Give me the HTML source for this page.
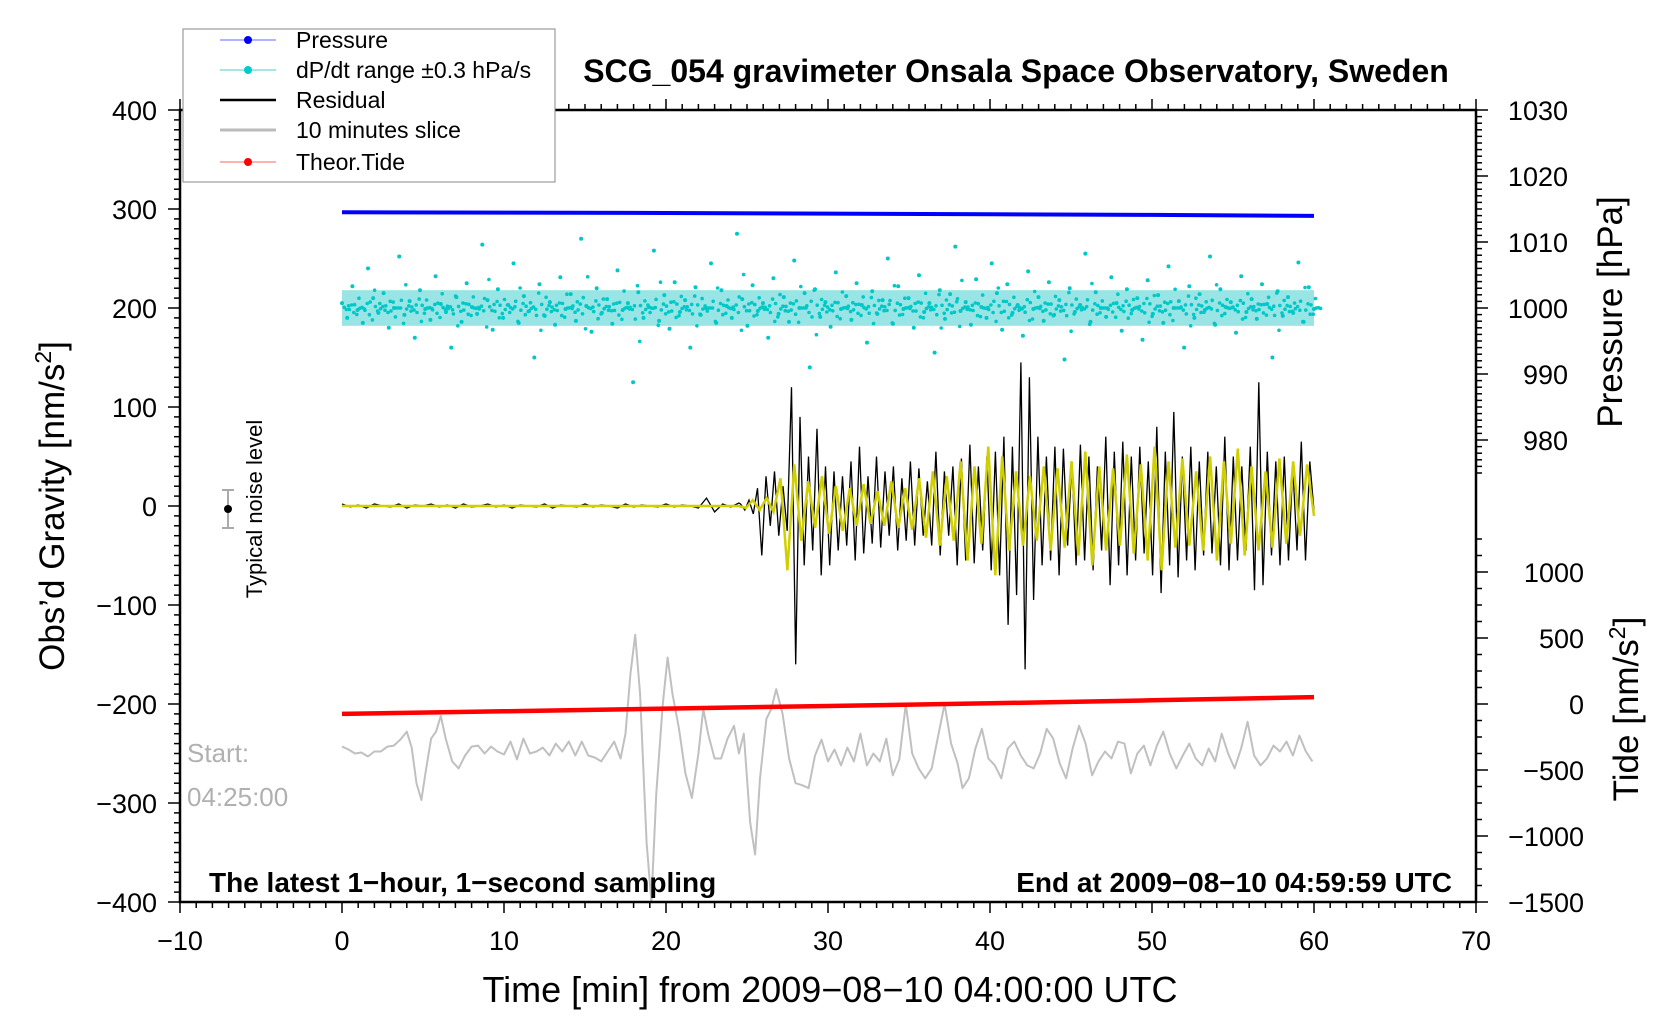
<!DOCTYPE html>
<html><head><meta charset="utf-8">
<style>
html,body{margin:0;padding:0;background:#fff;}
svg{display:block;font-family:"Liberation Sans",Arial,sans-serif;}
</style></head>
<body>
<svg id="chart" width="1676" height="1020" viewBox="0 0 1676 1020" xmlns="http://www.w3.org/2000/svg">
<rect x="0" y="0" width="1676" height="1020" fill="#fff"/>
<g id="marks"></g>
<g id="axes"></g>
<text x="1016" y="82" text-anchor="middle" font-size="32" font-weight="bold">SCG_054 gravimeter Onsala Space Observatory, Sweden</text>
<text x="830" y="1002" text-anchor="middle" font-size="36">Time [min] from 2009−08−10 04:00:00 UTC</text>
<text transform="translate(64,506) rotate(-90)" text-anchor="middle" font-size="35">Obs’d Gravity [nm/s<tspan font-size="23" dy="-13">2</tspan><tspan dy="13">]</tspan></text>
<text transform="translate(1622,312) rotate(-90)" text-anchor="middle" font-size="35">Pressure [hPa]</text>
<text transform="translate(1638,709) rotate(-90)" text-anchor="middle" font-size="35">Tide [nm/s<tspan font-size="23" dy="-13">2</tspan><tspan dy="13">]</tspan></text>
<text x="209" y="892" font-size="28" font-weight="bold">The latest 1−hour, 1−second sampling</text>
<text x="1452" y="892" text-anchor="end" font-size="28" font-weight="bold">End at 2009−08−10 04:59:59 UTC</text>
<text x="187" y="762" font-size="26" fill="#b0b0b0">Start:</text>
<text x="187" y="806" font-size="26" fill="#b0b0b0">04:25:00</text>
<text transform="translate(262,509) rotate(-90)" text-anchor="middle" font-size="22">Typical noise level</text>
<g>
<line x1="228" y1="490" x2="228" y2="528" stroke="#aaa" stroke-width="2"/>
<line x1="222" y1="490" x2="234" y2="490" stroke="#aaa" stroke-width="2"/>
<line x1="222" y1="528" x2="234" y2="528" stroke="#aaa" stroke-width="2"/>
<circle cx="228" cy="509" r="4" fill="#000"/>
</g>
<g>
<rect x="183" y="29" width="372" height="153" fill="#fff" stroke="#888" stroke-width="1"/>
<g><line x1="220" y1="40" x2="276" y2="40" stroke="#66f" stroke-width="1"/><circle cx="248" cy="40" r="4" fill="#00f"/><text x="296" y="48" font-size="23">Pressure</text></g>
<g><line x1="220" y1="70" x2="276" y2="70" stroke="#4cc" stroke-width="1"/><circle cx="248" cy="70" r="4" fill="#0cc"/><text x="296" y="78" font-size="23">dP/dt range ±0.3 hPa/s</text></g>
<g><line x1="220" y1="100" x2="276" y2="100" stroke="#000" stroke-width="2.5"/><text x="296" y="108" font-size="23">Residual</text></g>
<g><line x1="220" y1="130" x2="276" y2="130" stroke="#bbb" stroke-width="3"/><text x="296" y="138" font-size="23">10 minutes slice</text></g>
<g><line x1="220" y1="162" x2="276" y2="162" stroke="#f66" stroke-width="1"/><circle cx="248" cy="162" r="4" fill="#f00"/><text x="296" y="170" font-size="23">Theor.Tide</text></g>
</g>
</svg>
<script>
// ---- data ----
const xTicks=[-10,0,10,20,30,40,50,60,70];
const yTicks=[400,300,200,100,0,-100,-200,-300,-400];
const pTicks=[1030,1020,1010,1000,990,980];
const tideTicks=[1000,500,0,-500,-1000,-1500];
const pressureT=[0,10,20,30,40,50,60];
const pressureV=[1014.5,1014.45,1014.4,1014.3,1014.2,1014.1,1013.95];
const tideT=[0,10,20,30,40,50,60];
const tideV=[-75,-55,-35,-15,5,28,52];
const sliceT=[0,.4,.8,1.2,1.6,2,2.4,2.8,3.2,3.6,4,4.3,4.6,4.9,5.2,5.5,5.8,6.1,6.4,6.8,7.2,7.6,8,8.4,8.8,9.2,9.6,10,10.4,10.8,11.2,11.6,12,12.4,12.8,13.2,13.6,14,14.4,14.8,15.2,15.6,16,16.4,16.8,17.2,17.5,17.8,18.1,18.4,18.8,19.1,19.4,19.8,20.1,20.4,20.8,21.2,21.6,22,22.3,22.6,23,23.4,23.8,24.2,24.5,24.8,25.2,25.5,25.8,26.2,26.5,26.8,27.2,27.6,28,28.4,28.8,29.2,29.6,30,30.4,30.8,31.2,31.6,32,32.4,32.8,33.2,33.6,34,34.4,34.8,35.2,35.6,36,36.4,36.8,37.2,37.6,38,38.3,38.7,39.1,39.5,39.9,40.3,40.7,41.1,41.5,41.9,42.3,42.7,43.1,43.5,43.9,44.3,44.7,45.1,45.5,45.9,46.3,46.7,47.1,47.5,47.9,48.3,48.7,49.1,49.5,49.9,50.3,50.7,51.1,51.5,51.9,52.3,52.7,53.1,53.5,53.9,54.3,54.7,55.1,55.5,55.9,56.3,56.7,57.1,57.5,57.9,58.3,58.7,59.1,59.5,59.9];
const sliceV=[-243,-246,-250,-249,-253,-248,-248,-243,-242,-236,-228,-244,-280,-297,-265,-235,-228,-212,-235,-258,-265,-252,-243,-242,-250,-243,-248,-251,-238,-256,-235,-250,-248,-244,-252,-240,-248,-238,-252,-238,-252,-254,-258,-248,-238,-255,-230,-170,-130,-190,-340,-400,-290,-200,-153,-190,-225,-270,-295,-250,-205,-230,-255,-255,-235,-222,-250,-230,-320,-352,-275,-215,-205,-185,-210,-255,-280,-282,-285,-252,-236,-258,-246,-262,-244,-258,-230,-262,-250,-258,-235,-272,-256,-200,-250,-265,-275,-265,-232,-200,-240,-260,-285,-275,-245,-225,-255,-262,-275,-245,-238,-252,-262,-265,-250,-225,-235,-260,-275,-245,-222,-240,-272,-258,-248,-255,-238,-240,-270,-250,-242,-262,-242,-228,-250,-265,-252,-240,-255,-262,-245,-258,-230,-250,-265,-245,-218,-252,-262,-255,-242,-248,-238,-252,-232,-248,-258];
// residual: quiet part (0.5 min steps 0..24.5) then active part spanning 24.6..60
const residQuietV=[2,-1,1,-2,2,0,-1,2,-2,1,0,2,-1,1,-2,2,-1,0,2,-1,1,-2,1,0,-1,2,-2,1,0,-1,2,-1,1,0,-2,2,-1,1,0,-1,2,-1,1,0,-2,8,-6,2,-1,3];
const residActiveV=[2,-4,6,-8,18,-50,30,-20,35,-30,20,-25,120,-160,90,-60,50,-45,78,-70,40,-60,35,-45,30,-40,45,-55,60,-48,30,-38,50,-42,35,-30,40,-45,28,-35,45,-40,38,-30,25,-40,55,-50,35,-30,40,-60,48,-55,62,-58,40,-45,50,-65,55,-70,70,-120,60,-90,145,-165,130,-95,70,-60,50,-55,60,-70,58,-40,45,-60,62,-55,50,-65,40,-45,70,-80,55,-60,65,-70,50,-55,60,-48,45,-70,80,-88,55,-60,95,-72,50,-55,60,-65,45,-50,55,-48,40,-60,70,-65,50,-55,40,-45,60,-85,125,-80,55,-50,45,-60,50,-55,40,-45,65,-55,45,-5];
const yellowV=[0,-2,6,-4,8,-6,28,-65,42,-35,25,-22,30,-28,20,-25,18,-20,22,-18,15,-20,25,-22,18,-24,28,-32,35,-40,30,-35,45,-55,40,-38,60,-70,50,-45,35,-40,30,-35,40,-45,38,-42,45,-50,55,-60,40,-45,38,-40,52,-48,42,-55,60,-65,45,-42,48,-40,35,-45,50,-55,45,-38,58,-50,40,-45,35,-42,48,-38,45,-30,42,-10];
const dpdtV=[205,190,222,198,185,240,210,195,215,180,200,252,193,207,170,218,199,188,232,204,196,160,211,186,225,201,194,264,208,178,219,190,203,245,185,212,197,150,224,192,206,183,231,199,214,187,270,202,176,220,195,209,184,238,198,205,125,216,190,201,258,187,213,179,226,196,208,160,221,193,200,245,185,218,202,190,275,209,182,223,197,205,170,230,194,211,186,248,200,215,140,219,191,206,181,236,199,212,188,225,203,165,217,194,208,250,184,222,199,210,180,233,196,205,155,218,189,214,262,197,206,183,229,201,190,245,215,178,224,195,203,172,237,199,211,187,226,193,208,148,220,196,203,255,186,216,200,191,231,205,177,219,198,210,168,228,194,213,185,242,200,207,160,222,190,214,198,252,183,219,201,206,175,232,196,209,189,224,204,150,217,192,211,195,246,186,221,199];
const dpdtT=[];for(let i=0;i<dpdtV.length;i++){dpdtT.push(i*60/(dpdtV.length-1));}

// ---- scales ----
const X0=180,X1=1476,Y0=110,Y1=902;
function xS(t){return X0+(t+10)/80*(X1-X0);}
function yS(v){return Y1-(v+400)/800*(Y1-Y0);}
function pToY(p){return 200+(p-1000)*200/30;}
function tideToY(t){return -200+t*200/1500;}

const NS="http://www.w3.org/2000/svg";
const marks=document.getElementById('marks');
const axes=document.getElementById('axes');
function mk(tag,attrs,parent){const e=document.createElementNS(NS,tag);for(const k in attrs)e.setAttribute(k,attrs[k]);parent.appendChild(e);return e;}
function pathD(ts,vs){return ts.map((t,i)=>(i?'L':'M')+xS(t).toFixed(1)+','+yS(vs[i]).toFixed(1)).join('');}

// dP/dt core band + scatter
const band=mk('rect',{x:xS(0),y:yS(218),width:xS(60)-xS(0),height:yS(182)-yS(218),fill:'#55d2d2',opacity:0.6},marks);


const dg=mk('g',{fill:'#00c8c8'},marks);


dpdtV.forEach((v,i)=>{const c=mk('circle',{cx:xS(dpdtT[i]).toFixed(1),cy:yS(v).toFixed(1),r:2},dg);

});
for(let k=0;k<3;k++){dpdtV.forEach((v,i)=>{const vv=200+(v-200)*0.45*(k+1)/3*(k%2?-1:1);const c=mk('circle',{cx:(xS(dpdtT[i])+(k+1)*2.2).toFixed(1),cy:yS(vv).toFixed(1),r:1.8},dg);

});}

// pressure
const pp=mk('path',{d:pathD(pressureT,pressureV.map(pToY)),stroke:'#0000ff',fill:'none','stroke-width':4},marks);



// slice
const sp=mk('path',{d:pathD(sliceT,sliceV),stroke:'#c0c0c0',fill:'none','stroke-width':2,'stroke-linejoin':'round'},marks);



// tide
const tp=mk('path',{d:pathD(tideT,tideV.map(tideToY)),stroke:'#ff0000',fill:'none','stroke-width':4.5},marks);



// residual
const rT=[],rV=[];
residQuietV.forEach((v,i)=>{rT.push(i*0.5);rV.push(v);});
const aStep=(60-24.6)/(residActiveV.length-1);
residActiveV.forEach((v,i)=>{rT.push(24.6+i*aStep);rV.push(v);});
const rp=mk('path',{d:pathD(rT,rV),stroke:'#000',fill:'none','stroke-width':1.3},marks);


const yStep=(60-24.5)/(yellowV.length-1);
const yTs=[0,24].concat(yellowV.map((v,i)=>24.5+i*yStep));const yVs=[0,0].concat(yellowV);
const yp=mk('path',{d:pathD(yTs,yVs),stroke:'#d0d000',fill:'none','stroke-width':2.5},marks);



// ---- axes ----
const frame=mk('rect',{x:X0,y:Y0,width:X1-X0,height:Y1-Y0,fill:'none',stroke:'#000','stroke-width':2.5},axes);


const tk=mk('g',{stroke:'#000','stroke-width':1.5},axes);


for(let t=-10;t<=70;t++){const maj=t%10===0;const L=maj?11:6;
mk('line',{x1:xS(t),x2:xS(t),y1:Y1,y2:Y1+L},tk);mk('line',{x1:xS(t),x2:xS(t),y1:Y0,y2:Y0-L},tk);}
for(let v=-400;v<=400;v+=10){const maj=v%100===0;mk('line',{x1:X0,x2:X0-(maj?12:6),y1:yS(v),y2:yS(v)},tk);}
for(let p=1030;p>=975;p--){const maj=p%10===0;mk('line',{x1:X1,x2:X1+(maj?12:6),y1:yS(pToY(p)),y2:yS(pToY(p))},tk);}
for(let t=1250;t>=-1500;t-=125){const maj=t%500===0;mk('line',{x1:X1,x2:X1+(maj?12:6),y1:yS(tideToY(t)),y2:yS(tideToY(t))},tk);}
xTicks.forEach(t=>{const e=mk('text',{x:xS(t),y:950,'text-anchor':'middle','font-size':27},axes);e.textContent=String(t).replace('-','−');

});
yTicks.forEach(v=>{const e=mk('text',{x:157,y:yS(v)+10,'text-anchor':'end','font-size':27},axes);e.textContent=String(v).replace('-','−');

});
pTicks.forEach(p=>{const e=mk('text',{x:1568,y:yS(pToY(p))+10,'text-anchor':'end','font-size':27},axes);e.textContent=String(p);

});
tideTicks.forEach(t=>{const e=mk('text',{x:1584,y:yS(tideToY(t))+10,'text-anchor':'end','font-size':27},axes);e.textContent=String(t).replace('-','−');

});
</script>
</body></html>
